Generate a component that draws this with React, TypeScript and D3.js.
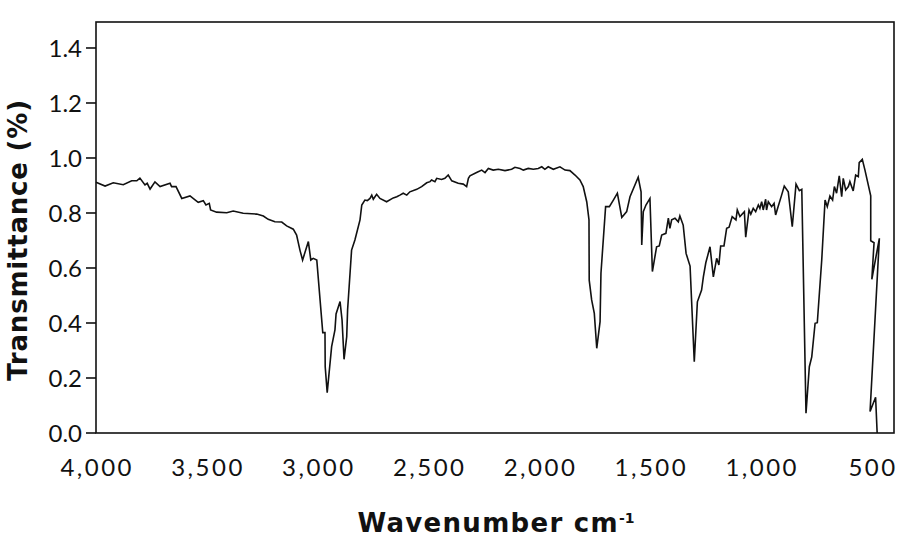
import React from "react";
import * as d3 from "d3";

const wavenumbers = [
  4000, 3959, 3922, 3877, 3839, 3816, 3802, 3779, 3769, 3756, 3734, 3711, 3666, 3659, 3639, 3613,
  3576, 3539, 3516, 3504, 3489, 3483, 3456, 3410, 3381, 3336, 3275, 3245, 3223, 3193, 3162, 3140,
  3110, 3095, 3080, 3068, 3042, 3031, 3020, 3004, 2977, 2967, 2966, 2957, 2937, 2922, 2917, 2899,
  2890, 2881, 2869, 2865, 2847, 2832, 2809, 2801, 2787, 2776, 2764, 2756, 2749, 2734, 2719, 2689,
  2659, 2643, 2629, 2614, 2598, 2584, 2553, 2531, 2508, 2493, 2486, 2471, 2463, 2441, 2426, 2411,
  2395, 2366, 2343, 2328, 2320, 2313, 2283, 2260, 2245, 2230, 2208, 2185, 2155, 2125, 2110, 2087,
  2072, 2050, 2027, 2005, 1989, 1975, 1960, 1937, 1907, 1884, 1862, 1839, 1817, 1802, 1786, 1776,
  1775, 1764, 1752, 1741, 1726, 1722, 1701, 1684, 1666, 1648, 1628, 1606, 1591, 1554, 1541, 1538,
  1531, 1519, 1501, 1490, 1471, 1459, 1448, 1429, 1418, 1411, 1403, 1388, 1373, 1366, 1351, 1338,
  1320, 1301, 1287, 1268, 1260, 1249, 1230, 1215, 1200, 1190, 1182, 1167, 1155, 1144, 1130, 1113,
  1107, 1095, 1075, 1069, 1054, 1046, 1035, 1024, 1012, 1005, 997, 990, 979, 975, 967, 952,
  941, 934, 925, 907, 895, 877, 859, 842, 827, 816, 797, 782, 771, 756, 746, 726,
  711, 701, 689, 677, 669, 659, 647, 636, 629, 618, 606, 599, 584, 573, 561, 557,
  543, 531, 505, 505, 490, 500, 466, 508, 483, 476,
];

const transmittance = [
  0.912, 0.898, 0.91, 0.903, 0.917, 0.917, 0.927, 0.902, 0.908, 0.887, 0.913, 0.896, 0.908, 0.896, 0.896, 0.853,
  0.862, 0.839, 0.845, 0.829, 0.835, 0.811, 0.803, 0.801, 0.807, 0.799, 0.796, 0.789, 0.777, 0.768, 0.767, 0.753,
  0.741, 0.72, 0.665, 0.629, 0.696, 0.629, 0.635, 0.629, 0.365, 0.365, 0.241, 0.147, 0.314, 0.375, 0.433, 0.478,
  0.411, 0.268, 0.35, 0.447, 0.665, 0.702, 0.775, 0.829, 0.847, 0.845, 0.853, 0.865, 0.85, 0.868, 0.853, 0.841,
  0.855, 0.859, 0.865, 0.872, 0.865, 0.877, 0.886, 0.896, 0.91, 0.914, 0.92, 0.914, 0.926, 0.922, 0.926, 0.938,
  0.917, 0.908, 0.905, 0.896, 0.926, 0.935, 0.947, 0.956, 0.947, 0.962, 0.956, 0.959, 0.954, 0.959, 0.966, 0.962,
  0.956, 0.962, 0.959, 0.962, 0.968, 0.959, 0.968, 0.959, 0.968, 0.956, 0.954, 0.938, 0.92, 0.896, 0.84, 0.775,
  0.556, 0.484, 0.435, 0.308, 0.405, 0.581, 0.823, 0.823, 0.847, 0.872, 0.784, 0.805, 0.859, 0.93, 0.877, 0.684,
  0.805, 0.829, 0.853, 0.587, 0.677, 0.68, 0.72, 0.726, 0.781, 0.744, 0.775, 0.781, 0.768, 0.789, 0.756, 0.653,
  0.607, 0.259, 0.477, 0.52, 0.568, 0.619, 0.677, 0.568, 0.635, 0.611, 0.68, 0.68, 0.744, 0.748, 0.787, 0.775,
  0.811, 0.787, 0.805, 0.712, 0.811, 0.796, 0.817, 0.805, 0.829, 0.817, 0.841, 0.811, 0.85, 0.811, 0.841, 0.823,
  0.835, 0.793, 0.817, 0.865, 0.898, 0.877, 0.75, 0.905, 0.881, 0.886, 0.072, 0.241, 0.277, 0.399, 0.401, 0.629,
  0.847, 0.823, 0.862, 0.847, 0.896, 0.872, 0.935, 0.859, 0.926, 0.884, 0.896, 0.914, 0.88, 0.938, 0.932, 0.983,
  0.995, 0.956, 0.862, 0.699, 0.692, 0.559, 0.708, 0.078, 0.13, 0.0,
];

const xTickValues = [4000, 3500, 3000, 2500, 2000, 1500, 1000, 500];
const yTickValues = [0, 0.2, 0.4, 0.6, 0.8, 1.0, 1.2, 1.4];

const xTitle = "Wavenumber cm";
const xTitleSup = "-1";
const yTitle = "Transmittance (%)";

const W = 900;
const H = 550;
const left = 96;
const right = 894;
const top = 22;
const bottom = 433;

export default function App() {
  const x = d3.scaleLinear().domain([4000, 400]).range([left, right]);
  const y = d3.scaleLinear().domain([0, 1.4945]).range([bottom, top]);
  const pts: [number, number][] = wavenumbers.map((w, i) => [w, transmittance[i]]);
  const line = d3
    .line<[number, number]>()
    .x((d) => x(d[0]))
    .y((d) => y(d[1]));
  const fmtX = d3.format(",");
  const fmtY = d3.format(".1f");
  const tickFont = "Lato, 'Open Sans', sans-serif";
  const titleFont = "'DejaVu Sans', sans-serif";
  return (
    <svg
      width={W}
      height={H}
      style={{ position: "absolute", left: 0, top: 0, background: "#fff" }}
    >
      <rect x={0} y={0} width={W} height={H} fill="#fff" />
      <path d={line(pts) || ""} fill="none" stroke="#111" strokeWidth={1.6} strokeLinejoin="miter" />
      <rect
        x={left}
        y={top}
        width={right - left}
        height={bottom - top}
        fill="none"
        stroke="#111"
        strokeWidth={1.6}
      />
      {yTickValues.map((v) => (
        <g key={"y" + v}>
          <line x1={left - 10} x2={left} y1={y(v)} y2={y(v)} stroke="#111" strokeWidth={1.6} />
          <text
            x={left - 14}
            y={y(v)}
            dy="0.36em"
            textAnchor="end"
            fontFamily={tickFont}
            fontSize={24}
            fill="#111"
          >
            {fmtY(v)}
          </text>
        </g>
      ))}
      {xTickValues.map((v) => (
        <text
          key={"x" + v}
          x={x(v) + 1.2}
          y={476}
          textAnchor="middle"
          fontFamily={tickFont}
          fontSize={24}
          letterSpacing={2.5}
          fill="#111"
        >
          {fmtX(v)}
        </text>
      ))}
      <text
        x={(left + right) / 2 + 1}
        y={531.5}
        textAnchor="middle"
        fontFamily={titleFont}
        fontWeight="bold"
        fontSize={26}
        letterSpacing={1.3}
        fill="#111"
      >
        {xTitle}
        <tspan fontSize={14} dy={-9} letterSpacing={0}>
          {xTitleSup}
        </tspan>
      </text>
      <text
        transform={`translate(27,${240}) rotate(-90)`}
        textAnchor="middle"
        fontFamily={titleFont}
        fontWeight="bold"
        fontSize={26}
        letterSpacing={0.8}
        fill="#111"
      >
        {yTitle}
      </text>
    </svg>
  );
}
